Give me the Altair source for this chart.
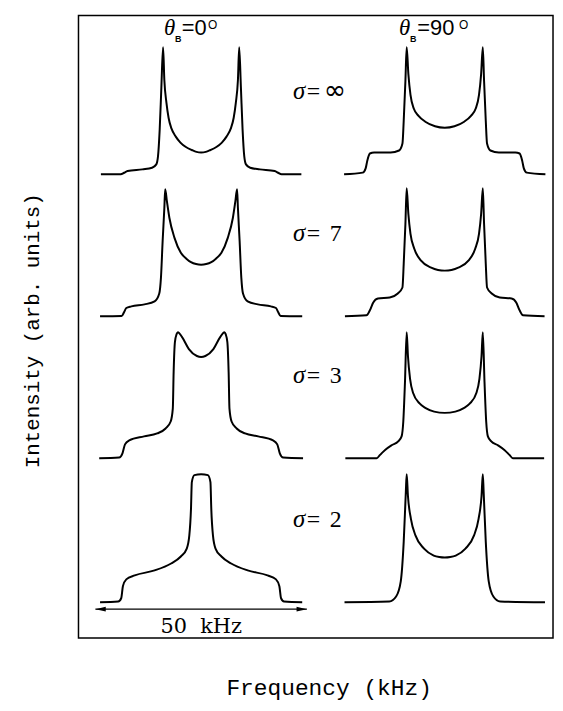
import altair as alt
import pandas as pd

# ---------------- data ----------------
# frequency offset from each spectrum's centre (kHz) and intensity (arb. units)
# column theta_B = 0 deg
f_0_inf = [-23.7, -19.0, -18.2, -17.4, -13.9, -11.6, -10.6, -10.2, -9.8, -9.4, -9.0, -8.7, -8.2, -7.7, -7.0, -6.0, -4.9, -3.6, -2.2, -1.1, 0.0,
           1.1, 2.2, 3.6, 4.9, 6.0, 7.0, 7.7, 8.2, 8.7, 9.0, 9.4, 9.8, 10.2, 10.6, 11.6, 13.9, 17.4, 18.2, 19.0, 23.7]
i_0_inf = [0, 0, 1.6, 3.3, 5, 6.6, 10, 18, 45, 88, 128, 95, 72, 57, 46, 38, 32, 27.5, 24.5, 22.6, 22,
           22.6, 24.5, 27.5, 32, 38, 46, 57, 72, 95, 128, 88, 45, 18, 10, 6.6, 5, 3.3, 1.6, 0, 0]

f_0_7 = [-23.9, -18.8, -18.2, -17.7, -16.5, -13.4, -11.0, -9.9, -9.5, -9.1, -8.7, -8.5, -8.1, -7.5, -6.3, -4.8, -3.5, -2.4, -1.2, 0.0,
         1.2, 2.4, 3.5, 4.8, 6.3, 7.5, 8.1, 8.5, 8.7, 9.1, 9.5, 9.9, 11.0, 13.4, 16.5, 17.7, 18.2, 18.8, 23.9]
i_0_7 = [0, 0.3, 4.3, 8.3, 10, 12, 15, 23, 39, 76, 109, 128, 116, 99, 79, 64, 58, 54.5, 52.6, 52,
         52.6, 54.5, 58, 64, 79, 99, 116, 128, 109, 76, 39, 23, 15, 12, 10, 8.3, 4.3, 0.3, 0]

f_0_3 = [-24.1, -19.4, -18.6, -18.0, -17.0, -13.5, -10.4, -8.4, -7.2, -6.7, -6.5, -6.2, -5.8, -5.5, -4.5, -2.9, -1.0, 0.0,
         1.0, 2.9, 4.5, 5.5, 5.8, 6.2, 6.5, 6.7, 7.2, 8.4, 10.4, 13.5, 17.0, 18.0, 18.6, 19.4, 24.1]
i_0_3 = [0, 0.7, 5, 14, 18, 22, 25, 30, 37, 50, 87, 117, 125, 127, 122, 110, 103, 102,
         103, 110, 122, 127, 125, 117, 87, 50, 37, 30, 25, 22, 18, 14, 5, 0.7, 0]

f_0_2 = [-23.9, -19.6, -18.9, -18.5, -17.7, -15.7, -11.0, -7.1, -4.8, -3.4, -2.8, -2.4, -2.2, -1.6, 0.0,
         1.6, 2.2, 2.4, 2.8, 3.4, 4.8, 7.1, 11.0, 15.7, 17.7, 18.5, 18.9, 19.6, 23.9]
i_0_2 = [0, 0.7, 4, 16, 23, 27, 32, 39, 46, 54, 67, 94, 121, 128, 129,
         128, 121, 94, 67, 54, 46, 39, 32, 27, 23, 16, 4, 0.7, 0]

# column theta_B = 90 deg
f_90_inf = [-23.8, -19.4, -18.7, -18.3, -17.7, -16.7, -12.8, -10.8, -10.0, -9.7, -9.3, -9.0, -8.6, -8.1, -7.3, -6.2, -4.6, -2.3, 0.0,
            2.3, 4.6, 6.2, 7.3, 8.1, 8.6, 9.0, 9.3, 9.7, 10.0, 10.8, 12.8, 16.7, 17.7, 18.3, 18.7, 19.4, 23.8]
i_90_inf = [0, 1.7, 6, 14, 21, 22, 22, 24, 31, 54, 94, 128, 101, 80, 66, 59, 53, 48.5, 47,
            48.5, 53, 59, 66, 80, 101, 128, 94, 54, 31, 24, 22, 22, 21, 14, 6, 1.7, 0]

f_90_7 = [-23.6, -18.5, -17.7, -16.9, -15.8, -13.0, -11.1, -10.0, -9.7, -9.3, -9.0, -8.6, -8.1, -7.2, -5.6, -3.2, -1.6, 0.0,
          1.6, 3.2, 5.6, 7.2, 8.1, 8.6, 9.0, 9.3, 9.7, 10.0, 11.1, 13.0, 15.8, 16.9, 17.7, 18.5, 23.6]
i_90_7 = [0, 1, 6, 14, 18, 19, 23, 29, 53, 93, 129, 103, 83, 68, 56, 49, 46.7, 46,
          46.7, 49, 56, 68, 83, 103, 129, 93, 53, 29, 23, 19, 18, 14, 6, 1, 0]

f_90_3 = [-23.5, -16.1, -15.3, -14.1, -12.6, -11.0, -10.2, -9.8, -9.4, -9.0, -8.7, -8.2, -7.5, -5.9, -4.5, -2.5, 0.0,
          2.5, 4.5, 5.9, 7.5, 8.2, 8.7, 9.0, 9.4, 9.8, 10.2, 11.0, 12.6, 14.1, 15.3, 16.1, 23.5]
i_90_3 = [0, 0, 3.4, 8.4, 13, 17, 22, 37, 77, 127, 103, 80, 66, 55, 50.5, 47, 45.7,
          47, 50.5, 55, 66, 80, 103, 127, 77, 37, 22, 17, 13, 8.4, 3.4, 0, 0]

f_90_2 = [-23.7, -13.1, -11.5, -10.4, -9.7, -9.2, -9.0, -8.7, -8.0, -6.9, -4.9, -2.6, -1.3, 0.0,
          1.3, 2.6, 4.9, 6.9, 8.0, 8.7, 9.0, 9.2, 9.7, 10.4, 11.5, 13.1, 23.7]
i_90_2 = [0, 0.7, 5.7, 21, 61, 111, 129, 107, 84, 67, 54, 47, 45.5, 45,
          45.5, 47, 54, 67, 84, 107, 129, 111, 61, 21, 5.7, 0.7, 0]

theta_labels = ["0", "90"]
sigma_labels = ["\u221e", "7", "3", "2"]
scale_bar_khz = [-25, 25]
scale_bar_text = "50\u00a0\u00a0kHz"

# ---------------- layout ----------------
W, H = 478, 627
XMIN, XMAX = -29.0, 83.2
COL_OFF = {"0": 0.0, "90": 57.6}
ROW_OFF = {"\u221e": 467, "7": 324, "3": 181, "2": 36}

spectra = [
    ("0", "\u221e", f_0_inf, i_0_inf), ("0", "7", f_0_7, i_0_7),
    ("0", "3", f_0_3, i_0_3), ("0", "2", f_0_2, i_0_2),
    ("90", "\u221e", f_90_inf, i_90_inf), ("90", "7", f_90_7, i_90_7),
    ("90", "3", f_90_3, i_90_3), ("90", "2", f_90_2, i_90_2),
]
rows = []
for col, sig, f, inten in spectra:
    for k, (fv, iv) in enumerate(zip(f, inten)):
        rows.append({"key": f"{col}_{sig}", "k": k,
                     "x": fv + COL_OFF[col], "y": iv + ROW_OFF[sig]})
df = pd.DataFrame(rows)

xs = alt.Scale(domain=[XMIN, XMAX], nice=False, zero=False)
ys = alt.Scale(domain=[0, H], nice=False, zero=False)
xax = alt.Axis(title="Frequency (kHz)", labels=False, ticks=False, domain=False, grid=False,
               titleX=252, titleY=50, titleFont="Liberation Mono", titleFontSize=23,
               titleFontWeight="normal", titleColor="black", titleBaseline="middle", titleAlign="center")
yax = alt.Axis(title="Intensity (arb. units)", labels=False, ticks=False, domain=False, grid=False,
               titleAngle=270, titleX=-46, titleY=317, titleFont="Liberation Mono", titleFontSize=21,
               titleFontWeight="normal", titleColor="black", titleBaseline="middle", titleAlign="center")


def X():
    return alt.X("x:Q", scale=xs, axis=xax)


def Y():
    return alt.Y("y:Q", scale=ys, axis=yax)


lines = alt.Chart(df).mark_line(color="black", strokeWidth=2, interpolate="monotone").encode(
    x=X(), y=Y(), detail="key:N", order="k:Q")


def txt(xv, yv, s, **kw):
    return alt.Chart(pd.DataFrame({"x": [xv], "y": [yv]})).mark_text(
        text=s, color="black", baseline="alphabetic", **kw).encode(x=X(), y=Y())


layers = [lines]
# sigma labels
for s in sigma_labels:
    yv = ROW_OFF[s] + 76
    layers.append(txt(21.7, yv, "\u03c3", font="Liberation Serif", fontStyle="italic", fontSize=25, align="left"))
    layers.append(txt(25.0, yv, "=", font="Liberation Serif", fontSize=24, align="left"))
    if s == "\u221e":
        layers.append(txt(29.0, yv, s, font="DejaVu Sans", fontSize=27, align="left"))
    else:
        layers.append(txt(30.4, yv, s, font="Liberation Serif", fontSize=24, align="left"))

# theta_B headers
hdr = {"0": (-8.8, -6.2, -4.6, 1.6), "90": (46.8, 49.4, 51.1, 61.0)}
for t in theta_labels:
    xt, xb, xe, xo = hdr[t]
    layers.append(txt(xt, 607, "\u03b8", font="Liberation Serif", fontStyle="italic", fontSize=23, align="left"))
    layers.append(txt(xb, 600, "B", font="Liberation Sans", fontWeight="bold", fontSize=9, align="left"))
    layers.append(txt(xe, 607, "=" + t, font="Liberation Sans", fontSize=22, align="left"))
    layers.append(txt(xo, 613, "O", font="Liberation Sans", fontSize=12, align="left"))

# 50 kHz scale bar
bar = pd.DataFrame({"x": [scale_bar_khz[0]], "x2": [scale_bar_khz[1]], "y": [29]})
layers.append(alt.Chart(bar).mark_rule(color="black", strokeWidth=1.2).encode(x=X(), x2="x2:Q", y=Y()))
layers.append(alt.Chart(pd.DataFrame({"x": [scale_bar_khz[0]], "y": [29]})).mark_point(
    shape="M0,0L2.6,-0.6L2.6,0.6Z", filled=True, color="black", size=64, opacity=1).encode(x=X(), y=Y()))
layers.append(alt.Chart(pd.DataFrame({"x": [scale_bar_khz[1]], "y": [29]})).mark_point(
    shape="M0,0L-2.6,-0.6L-2.6,0.6Z", filled=True, color="black", size=64, opacity=1).encode(x=X(), y=Y()))
layers.append(txt(0, 5, scale_bar_text, font="DejaVu Serif", fontSize=21, align="center"))

chart = alt.layer(*layers).properties(
    width=W, height=H,
    autosize=alt.AutoSizeParams(type="none"),
    padding={"left": 71, "top": 5, "right": 2, "bottom": 63},
    background="white",
).configure_view(stroke="black", strokeWidth=1.5)

chart.save("out.html", embed_options={"renderer": "svg", "actions": False})
